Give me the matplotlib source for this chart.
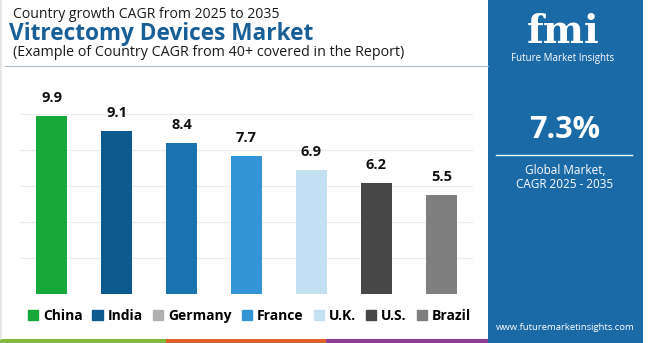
import matplotlib.pyplot as plt
from matplotlib.patches import Rectangle
from matplotlib.lines import Line2D
import numpy as np

countries = ["China", "India", "Germany", "France", "U.K.", "U.S.", "Brazil"]
cagr = [9.9, 9.1, 8.4, 7.7, 6.9, 6.2, 5.5]
bar_colors = ["#17a83a", "#0c5a8e", "#1a73ae", "#3395d5", "#c4e1f3", "#474747", "#7f7f7f"]
legend_colors = ["#17a83a", "#0c5a8e", "#b0b0b0", "#3395d5", "#c4e1f3", "#474747", "#7f7f7f"]
global_cagr = "7.3%"

W, H = 650, 343
fig = plt.figure(figsize=(W / 100, H / 100), dpi=100)
fig.patch.set_facecolor("white")

def fx(px):
    return px / W

def fy(px):
    # px measured from top
    return 1 - px / H

# plot area
ax = fig.add_axes([fx(20), fy(294), fx(473 - 20), (294 - 105.5) / H])
x = np.arange(len(countries))
ax.bar(x, cagr, width=0.49, color=bar_colors, zorder=3)
for xi, v in zip(x, cagr):
    ax.annotate(f"{v}", (xi, v), xytext=(0, 8), textcoords="offset points",
                ha="center", va="bottom", fontsize=10.5, fontweight="bold",
                color="#111111", family="Open Sans")
ax.set_xlim(-0.485, 6.485)
ax.set_ylim(0, 10.5)
ax.set_yticks(np.arange(0, 11, 2))
ax.grid(axis="y", color="#ebebeb", linewidth=0.9, zorder=0)
ax.tick_params(left=False, bottom=False, labelleft=False, labelbottom=False)
for s in ax.spines.values():
    s.set_visible(False)

# titles
fig.text(fx(13), fy(15), "Country growth CAGR from 2025 to 2035", fontsize=10.1,
         color="#1a1a1a", va="center", ha="left", family="Open Sans")
fig.text(fx(9), fy(34), "Vitrectomy Devices Market", fontsize=16.3, fontweight="bold",
         color="#175f96", va="center", ha="left", family="Open Sans")
fig.text(fx(13), fy(53), "(Example of Country CAGR from 40+ covered in the Report)",
         fontsize=10.3, color="#1a1a1a", va="center", ha="left", family="Open Sans")
fig.add_artist(Line2D([fx(5), fx(488)], [fy(66), fy(66)], color="#a9bccc", lw=0.8))

# left border
fig.add_artist(Line2D([fx(1), fx(1)], [fy(0), fy(339)], color="#e2e2e2", lw=1.2))

# legend
handles = [Rectangle((0, 0), 1, 1, color=c) for c in legend_colors]
fig.legend(handles, countries, loc="center left", bbox_to_anchor=(fx(22), fy(316)),
           ncol=len(countries), frameon=False, handlelength=0.75, handleheight=0.75,
           handletextpad=0.35, columnspacing=0.72, borderaxespad=0,
           prop={"family": "Open Sans", "weight": "bold", "size": 10})

# bottom strip
for x0, x1, c in [(0, 166, "#86b83e"), (166, 326, "#e0622a"), (326, 488, "#8e3c96")]:
    fig.add_artist(Rectangle((fx(x0), 0), fx(x1 - x0), 4 / H, lw=0, facecolor=c))

# right panel
panel = "#1b6aa8"
fig.add_artist(Rectangle((fx(488), 0), fx(643 - 488), 1, facecolor=panel, lw=0))
fig.text(fx(563), fy(43), "fmi", fontsize=28, fontweight="bold", color="white",
         ha="center", va="baseline", family="DejaVu Serif")
fig.text(fx(563), fy(59), "Future Market Insights", fontsize=7, color="white",
         ha="center", va="center", family="Open Sans")
fig.text(fx(565), fy(130), global_cagr, fontsize=22, fontweight="bold", color="white",
         ha="center", va="center", family="Open Sans")
fig.add_artist(Line2D([fx(496), fx(632)], [fy(155), fy(155)], color="white", lw=1))
fig.text(fx(565), fy(170), "Global Market,", fontsize=8.5, color="white",
         ha="center", va="center", family="Open Sans")
fig.text(fx(565), fy(184), "CAGR 2025 - 2035", fontsize=8.5, color="white",
         ha="center", va="center", family="Open Sans")
fig.text(fx(565), fy(328), "www.futuremarketinsights.com", fontsize=6.8, color="white",
         ha="center", va="center", family="Open Sans")

fig.savefig("out.png", dpi=100)
